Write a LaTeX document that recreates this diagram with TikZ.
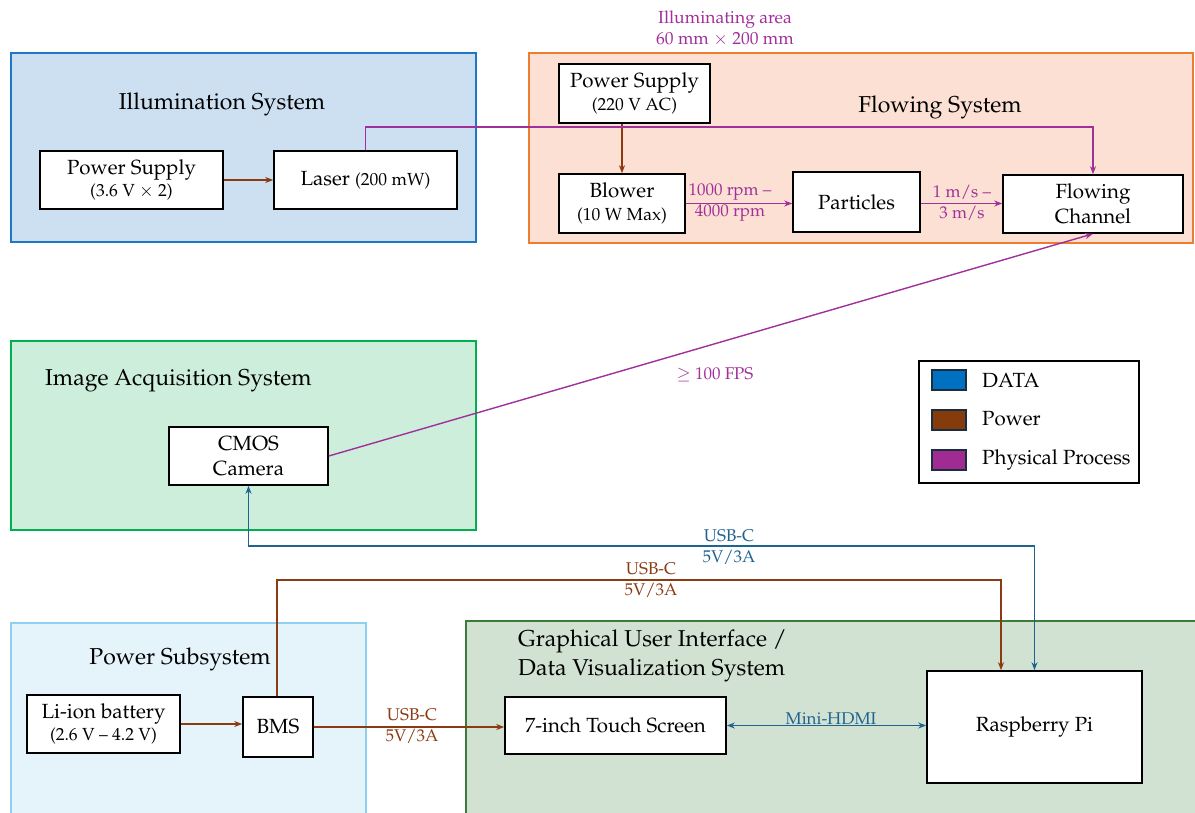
\documentclass[tikz,border=0pt]{standalone}
\usepackage[T1]{fontenc}
\usepackage{mathpazo}
\usetikzlibrary{arrows.meta}
\definecolor{illfill}{HTML}{CCE0F1}
\definecolor{illdraw}{HTML}{1E78C8}
\definecolor{flofill}{HTML}{FBE0D3}
\definecolor{flodraw}{HTML}{ED7D31}
\definecolor{imgfill}{HTML}{CCEEDB}
\definecolor{imgdraw}{HTML}{00B050}
\definecolor{pwsfill}{HTML}{E5F3FB}
\definecolor{pwsdraw}{HTML}{8DD0F0}
\definecolor{guifill}{HTML}{D2E2D2}
\definecolor{guidraw}{HTML}{3A7D3A}
\definecolor{datac}{HTML}{1F6391}
\definecolor{powc}{HTML}{8B3A12}
\definecolor{physc}{HTML}{A0309A}
\definecolor{legdata}{HTML}{0070C0}
\definecolor{legpow}{HTML}{843C0C}
\definecolor{legphys}{HTML}{A02B93}
\definecolor{legedge}{HTML}{1A2E40}
\tikzset{
  x=1pt,y=-1pt,
  box/.style={draw=black,line width=1.6pt,fill=white,align=center,inner sep=0pt,
    font=\fontsize{20.5}{25.5}\selectfont},
  grp/.style={line width=1.6pt},
  ttl/.style={font=\fontsize{23}{29}\selectfont,inner sep=0pt},
  lbl/.style={font=\fontsize{17}{20}\selectfont,inner sep=0pt,align=center},
  arealbl/.style={font=\fontsize{17.5}{21}\selectfont,inner sep=0pt,align=center},
  pw/.style={draw=powc,line width=1.4pt,-{Stealth[length=8pt,width=6pt]}},
  pp/.style={draw=physc,line width=1.4pt,-{Stealth[length=8pt,width=6pt]}},
  dt/.style={draw=datac,line width=1.4pt,-{Stealth[length=8pt,width=6pt]}},
  legsq/.style={line width=1.4pt,draw=legedge,minimum width=34pt,minimum height=20pt,inner sep=0pt},
  legtxt/.style={font=\fontsize{20.5}{23}\selectfont,inner sep=0pt,anchor=west}
}
\newcommand{\smalltxt}[1]{{\fontsize{17.5}{20}\selectfont #1}}
\begin{document}
\begin{tikzpicture}
\clip (0,0) rectangle (1195,812);
\fill[white] (0,0) rectangle (1195,812);
% groups
\draw[grp,fill=illfill,draw=illdraw] (11,53) rectangle (476,242);
\draw[grp,fill=flofill,draw=flodraw] (529,53) rectangle (1193,243);
\draw[grp,fill=imgfill,draw=imgdraw] (11,341) rectangle (476,530);
\draw[grp,fill=pwsfill,draw=pwsdraw] (11,623) rectangle (366,830);
\draw[grp,fill=guifill,draw=guidraw] (466,621) rectangle (1210,830);
% titles
\node[ttl] (tIll) at (222,104) {Illumination System};
\node[ttl] (tFlo) at (940,107) {Flowing System};
\node[ttl,anchor=west] (tImg) at (45,381) {Image Acquisition System};
\node[ttl] (tPws) at (180,659) {Power Subsystem};
\node[ttl,anchor=north west,align=left] (tGui) at (518,630) {Graphical User Interface /\\Data Visualization System};
\node[arealbl,text=physc] (tArea) at (725,28) {Illuminating area\\60 mm $\times$ 200 mm};
% boxes
\node[box,minimum width=183pt,minimum height=58pt] (ps1) at (131.5,180) {Power Supply\\[-3pt]\smalltxt{(3.6 V $\times$ 2)}};
\node[box,minimum width=183pt,minimum height=58pt] (laser) at (365.5,180) {Laser \smalltxt{(200 mW)}};
\node[box,minimum width=151pt,minimum height=59pt] (ps2) at (634.5,93.5) {Power Supply\\[-3pt]\smalltxt{(220 V AC)}};
\node[box,minimum width=126pt,minimum height=59pt] (blower) at (622,203.5) {Blower\\[-2pt]\smalltxt{(10 W Max)}};
\node[box,minimum width=127pt,minimum height=60pt] (particles) at (856.5,202) {Particles};
\node[box,minimum width=180pt,minimum height=58pt] (channel) at (1093,204) {Flowing\\Channel};
\node[box,minimum width=159pt,minimum height=58pt] (camera) at (248.5,456) {CMOS\\Camera};
\node[box,minimum width=153pt,minimum height=58pt] (battery) at (103.5,724) {Li-ion battery\\[-3pt]\smalltxt{(2.6 V -- 4.2 V)}};
\node[box,minimum width=70pt,minimum height=60pt] (bms) at (278,727) {BMS};
\node[box,minimum width=221pt,minimum height=57pt] (touch) at (615.5,725.5) {7-inch Touch Screen};
\node[box,minimum width=215pt,minimum height=112pt] (rpi) at (1034.5,727) {Raspberry Pi};
% connectors
\draw[pw] (ps1.east) -- (ps1.east -| laser.west);
\draw[pw] (ps2.south -| blower.north) -- (blower.north);
\draw[pp] (blower.east) -- (blower.east -| particles.west);
\draw[pp] (particles.east |- blower.east) -- (blower.east -| channel.west);
\coordinate (illturn) at (1093,127);
\draw[pp] (laser.north) |- (illturn) -- (channel.north);
\draw[pp] (camera.east) -- (channel.south);
\coordinate (dturn) at (248.5,546);
\draw[dt,{Stealth[length=8pt,width=6pt]}-{Stealth[length=8pt,width=6pt]}] (rpi.north) |- (dturn) -- (camera.south);
\coordinate (pturn) at (1001,580);
\draw[pw] (bms.north -| 277,0) |- (pturn) -- (pturn |- rpi.north);
\draw[pw] (battery.east) -- (battery.east -| bms.west);
\draw[pw] (bms.east) -- (bms.east -| touch.west);
\draw[dt,{Stealth[length=8pt,width=6pt]}-{Stealth[length=8pt,width=6pt]}] (touch.east) -- (touch.east -| rpi.west);
% connector labels
\node[lbl,text=physc] (l1) at (730,203) {1000 rpm --\\[1pt]4000 rpm};
\node[lbl,text=physc] (l2) at (962,203) {1 m/s --\\[1pt]3 m/s};
\node[lbl,text=physc] (l3) at (715,375) {$\geq$ 100 FPS};
\node[lbl,text=datac] (l4) at (729,547) {USB-C\\[1pt]5V/3A};
\node[lbl,text=powc] (l5) at (651,580) {USB-C\\[1pt]5V/3A};
\node[lbl,text=powc] (l6) at (412,726) {USB-C\\[1pt]5V/3A};
\node[lbl,text=datac,anchor=south] (l7) at (831,725) {Mini-HDMI};
% legend
\node[draw=black,line width=1.6pt,minimum width=220pt,minimum height=122pt,inner sep=0pt] (legend) at (1029,422) {};
\node[legsq,fill=legdata] (sq1) at (949,380) {};
\node[legsq,fill=legpow] (sq2) at (949,420) {};
\node[legsq,fill=legphys] (sq3) at (949,460) {};
\node[legtxt] (lt1) at (982,380) {DATA};
\node[legtxt] (lt2) at (982,419) {Power};
\node[legtxt] (lt3) at (982,460) {Physical Process};
\end{tikzpicture}
\end{document}
